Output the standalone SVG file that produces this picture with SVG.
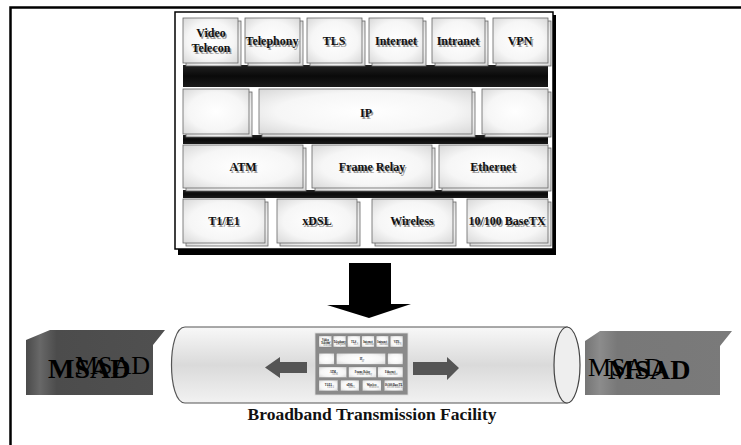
<svg xmlns="http://www.w3.org/2000/svg" xmlns:xlink="http://www.w3.org/1999/xlink" width="741" height="445" viewBox="0 0 741 445">
  <style>
    .frame { stroke:#000; stroke-width:2.5; fill:none; }
    .cell { fill:url(#cellFill); stroke:#666; stroke-width:0.8; }
    .shd { fill:#000; }
    .bar { fill:url(#barFill); }
    .lbl { font-family:"Liberation Serif","Times New Roman",serif; font-weight:bold; font-size:12px; text-anchor:middle; }
    .caption { font-family:"Liberation Serif","Times New Roman",serif; font-weight:bold; font-size:17.5px; text-anchor:middle; fill:#111; }
    .msad-b { font-family:"Liberation Serif","Times New Roman",serif; font-weight:bold; font-size:28px; fill:#000; }
    .msad-r { font-family:"Liberation Serif","Times New Roman",serif; font-size:26px; fill:#000; }
  </style>
  <defs>
    <radialGradient id="cellFill" cx="0.5" cy="0.5" r="0.7">
      <stop offset="0" stop-color="#ffffff"/>
      <stop offset="0.6" stop-color="#f6f6f6"/>
      <stop offset="1" stop-color="#d8d8d8"/>
    </radialGradient>
    <linearGradient id="barFill" x1="0" y1="0" x2="0" y2="1">
      <stop offset="0" stop-color="#222"/>
      <stop offset="0.5" stop-color="#0a0a0a"/>
      <stop offset="1" stop-color="#1a1a1a"/>
    </linearGradient>
    <linearGradient id="pipeFill" x1="0" y1="0" x2="0" y2="1">
      <stop offset="0" stop-color="#f8f8f8"/>
      <stop offset="0.5" stop-color="#dadada"/>
      <stop offset="1" stop-color="#f2f2f2"/>
    </linearGradient>
    <linearGradient id="msadDark" x1="0" y1="0" x2="1" y2="0">
      <stop offset="0" stop-color="#4a4a4a"/>
      <stop offset="0.1" stop-color="#686868"/>
      <stop offset="0.22" stop-color="#4c4c4c"/>
      <stop offset="1" stop-color="#505050"/>
    </linearGradient>
    <linearGradient id="msadLight" x1="0" y1="0" x2="1" y2="0">
      <stop offset="0" stop-color="#757575"/>
      <stop offset="0.1" stop-color="#8c8c8c"/>
      <stop offset="0.22" stop-color="#787878"/>
      <stop offset="1" stop-color="#7a7a7a"/>
    </linearGradient>

    <!-- protocol cells, shared by the large stack and the small copy in the pipe -->
    <g id="cellBoxes">
      <rect class="cell" x="183" y="18" width="55" height="45"/>
      <rect class="cell" x="245" y="18" width="55" height="45"/>
      <rect class="cell" x="307" y="18" width="55" height="45"/>
      <rect class="cell" x="369" y="18" width="54" height="45"/>
      <rect class="cell" x="432" y="18" width="53" height="45"/>
      <rect class="cell" x="493" y="18" width="55" height="45"/>
      <rect class="cell" x="183" y="89" width="66" height="45"/>
      <rect class="cell" x="259" y="89" width="213" height="45"/>
      <rect class="cell" x="482" y="89" width="66" height="45"/>
      <rect class="cell" x="183" y="145" width="120" height="43"/>
      <rect class="cell" x="312" y="145" width="120" height="43"/>
      <rect class="cell" x="439" y="145" width="109" height="43"/>
      <rect class="cell" x="183" y="199" width="82" height="44"/>
      <rect class="cell" x="277" y="199" width="80" height="44"/>
      <rect class="cell" x="372" y="199" width="81" height="44"/>
      <rect class="cell" x="467" y="199" width="81" height="44"/>
    </g>
    <g id="cellLabels" class="lbl">
      <text x="211" y="37">Video</text>
      <text x="211" y="52">Telecon</text>
      <text x="272" y="45">Telephony</text>
      <text x="334" y="45">TLS</text>
      <text x="396" y="45">Internet</text>
      <text x="458" y="45">Intranet</text>
      <text x="520" y="45">VPN</text>
      <text x="366" y="117">IP</text>
      <text x="243" y="171">ATM</text>
      <text x="372" y="171">Frame Relay</text>
      <text x="493" y="171">Ethernet</text>
      <text x="224" y="225">T1/E1</text>
      <text x="317" y="225">xDSL</text>
      <text x="412" y="225">Wireless</text>
      <text x="507" y="225">10/100 BaseTX</text>
    </g>
  </defs>

  <rect width="741" height="445" fill="#fff"/>

  <!-- page frame -->
  <path class="frame" d="M10.5 445 V7.5 H741"/>

  <!-- protocol stack -->
  <g id="protocol-stack">
    <rect class="shd" x="178" y="15" width="378" height="240"/>
    <rect x="175" y="12" width="378" height="237" fill="#fff" stroke="#000" stroke-width="1.5"/>
    <rect class="bar" x="183" y="65" width="365" height="22"/>
    <rect class="bar" x="183" y="135" width="365" height="9"/>
    <rect class="bar" x="183" y="190" width="365" height="8"/>
    <g transform="translate(3,3)" class="shd">
      <use xlink:href="#cellBoxes" style="fill:#000"/>
    </g>
    <use xlink:href="#cellBoxes"/>
    <use xlink:href="#cellLabels" fill="#9a9a9a" transform="translate(1.5,2)"/>
    <use xlink:href="#cellLabels" fill="#111"/>
  </g>

  <!-- broadband pipe -->
  <g id="pipe">
    <path d="M185 327 H567 V403 H185 C167 403 167 327 185 327 Z" fill="url(#pipeFill)" stroke="#555" stroke-width="1.2"/>
    <ellipse cx="567" cy="365" rx="13" ry="38" fill="#eeeeee" stroke="#444" stroke-width="1.2"/>
  </g>

  <!-- small copy of the stack inside the pipe -->
  <g id="mini-stack">
    <rect x="315" y="333" width="93" height="62" fill="#8a8a8a" stroke="#ddd" stroke-width="0.8"/>
    <g transform="translate(276.9,331.6) scale(0.23,0.244)">
      <use xlink:href="#cellBoxes"/>
      <use xlink:href="#cellLabels" fill="#999" transform="translate(9,8)"/>
      <use xlink:href="#cellLabels" fill="#111"/>
    </g>
  </g>

  <!-- MSAD end points -->
  <g id="msad-left">
    <polygon points="26,340 50,330 165,330 153,345 153,395 26,395" fill="url(#msadDark)"/>
    <text class="msad-r" x="75" y="374">MSAD</text>
    <text class="msad-b" x="48" y="378">MSAD</text>
  </g>
  <g id="msad-right">
    <polygon points="585,341 600,331 732,331 720,346 720,395 585,395" fill="url(#msadLight)"/>
    <text class="msad-r" x="588" y="376">MSAD</text>
    <text class="msad-b" x="608" y="379">MSAD</text>
  </g>

  <!-- arrows -->
  <g id="connectors">
    <polygon points="349,263 391,263 391,304 411,304 369,318 327,305 349,305" fill="#000"/>
    <polygon points="307,362 280,362 280,357 265,367.5 280,378 280,373 307,373" fill="#555"/>
    <polygon points="413,362 447,362 447,357 459,368 447,380 447,375 413,375" fill="#555"/>
  </g>

  <text id="caption" class="caption" x="372" y="420">Broadband Transmission Facility</text>
</svg>
